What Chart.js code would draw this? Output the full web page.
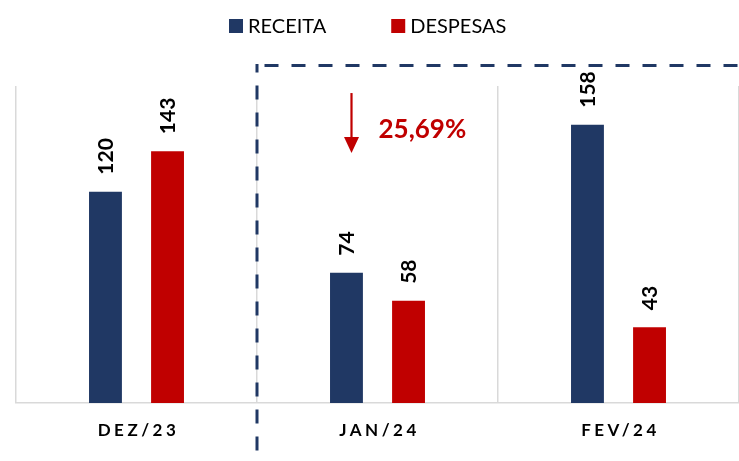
<!DOCTYPE html>
<html>
<head>
<meta charset="utf-8">
<script src="https://cdn.jsdelivr.net/npm/chart.js@4.4.1/dist/chart.umd.min.js"></script>
<style>
  html, body { margin: 0; padding: 0; background: #fff; }
  #wrap { width: 739px; height: 461px; position: relative; }
</style>
</head>
<body>
<div id="wrap"><canvas id="chart"></canvas></div>
<script>
// Datos
const meses = ['DEZ/23', 'JAN/24', 'FEV/24'];
const receita = [120, 74, 158];
const despesas = [143, 58, 43];
const variacao = '25,69%';

const AZUL = '#203864';
const VERMELHO = '#c00000';
const FONTE = 'Lato, "Open Sans", sans-serif';

// Leyenda propia arriba
const legendaTopo = {
  id: 'legendaTopo',
  afterDraw(chart) {
    const ctx = chart.ctx;
    ctx.save();
    ctx.font = '20px ' + FONTE;
    ctx.textBaseline = 'middle';
    let x = 229;
    chart.data.datasets.forEach((ds) => {
      ctx.fillStyle = ds.backgroundColor;
      ctx.fillRect(x, 19, 14, 14);
      ctx.fillStyle = '#000';
      ctx.fillText(ds.label, x + 19, 27);
      x += 19 + ctx.measureText(ds.label).width + 65;
    });
    ctx.restore();
  }
};

// Etiquetas de valor (rotadas) y etiquetas del eje X
const etiquetas = {
  id: 'etiquetas',
  afterDatasetsDraw(chart) {
    const ctx = chart.ctx;
    ctx.save();
    ctx.font = 'bold 21px ' + FONTE;
    ctx.fillStyle = '#000';
    chart.data.datasets.forEach((ds, i) => {
      chart.getDatasetMeta(i).data.forEach((bar, j) => {
        ctx.save();
        ctx.translate(bar.x, bar.y - 17);
        ctx.rotate(-Math.PI / 2);
        ctx.textAlign = 'left';
        ctx.textBaseline = 'middle';
        ctx.fillText(String(ds.data[j]), 0, 1);
        ctx.restore();
      });
    });

    const xs = chart.scales.x;
    ctx.font = 'bold 17px ' + FONTE;
    ctx.letterSpacing = '3.5px';
    ctx.textAlign = 'center';
    ctx.textBaseline = 'middle';
    meses.forEach((m, i) => {
      ctx.fillText(m, xs.getPixelForValue(i) + 2, 431);
    });
    ctx.restore();
  }
};

// Recuadro punteado, flecha y porcentaje
const destaque = {
  id: 'destaque',
  afterDraw(chart) {
    const ctx = chart.ctx;
    const xs = chart.scales.x;
    const ys = chart.scales.y;
    const xr = (xs.getPixelForValue(0) + xs.getPixelForValue(1)) / 2;
    const yr = 65.5;
    ctx.save();
    ctx.strokeStyle = AZUL;
    ctx.lineWidth = 3;
    ctx.setLineDash([14, 13]);
    ctx.lineDashOffset = -9 + 27;
    ctx.beginPath();
    ctx.moveTo(xr - 1.5, yr);
    ctx.lineTo(760, yr);
    ctx.stroke();
    ctx.lineDashOffset = 5.5;
    ctx.beginPath();
    ctx.moveTo(xr, yr - 1.5);
    ctx.lineTo(xr, 470);
    ctx.stroke();
    ctx.setLineDash([]);

    // flecha
    const ax = xs.getPixelForValue(1) - 26;
    const a1 = ys.getPixelForValue(176);
    const a2 = ys.getPixelForValue(142);
    ctx.strokeStyle = VERMELHO;
    ctx.fillStyle = VERMELHO;
    ctx.lineWidth = 2.2;
    ctx.beginPath();
    ctx.moveTo(ax, a1);
    ctx.lineTo(ax, a2 - 14);
    ctx.stroke();
    ctx.beginPath();
    ctx.moveTo(ax - 7.5, a2 - 16);
    ctx.lineTo(ax + 7.5, a2 - 16);
    ctx.lineTo(ax, a2);
    ctx.closePath();
    ctx.fill();

    ctx.font = 'bold 26px ' + FONTE;
    ctx.textAlign = 'left';
    ctx.textBaseline = 'middle';
    ctx.fillText(variacao, xs.getPixelForValue(1) + 1, ys.getPixelForValue(155.5));
    ctx.restore();
  }
};

const config = {
  type: 'bar',
  data: {
    labels: meses,
    datasets: [
      { label: 'RECEITA', data: receita, backgroundColor: AZUL },
      { label: 'DESPESAS', data: despesas, backgroundColor: VERMELHO }
    ]
  },
  options: {
    responsive: true,
    maintainAspectRatio: false,
    animation: false,
    categoryPercentage: 0.515,
    barPercentage: 0.53,
    layout: { padding: { left: 16, right: 0, top: 86, bottom: 58 } },
    plugins: {
      legend: { display: false },
      tooltip: { enabled: false }
    },
    scales: {
      x: {
        ticks: { display: false },
        grid: { display: true, color: '#d9d9d9', lineWidth: 1.5, drawTicks: false },
        border: { display: true, color: '#d9d9d9', width: 1.5 }
      },
      y: {
        display: false,
        min: 0,
        max: 180
      }
    }
  },
  plugins: [legendaTopo, etiquetas, destaque]
};

new Chart(document.getElementById('chart'), config);
</script>
</body>
</html>
